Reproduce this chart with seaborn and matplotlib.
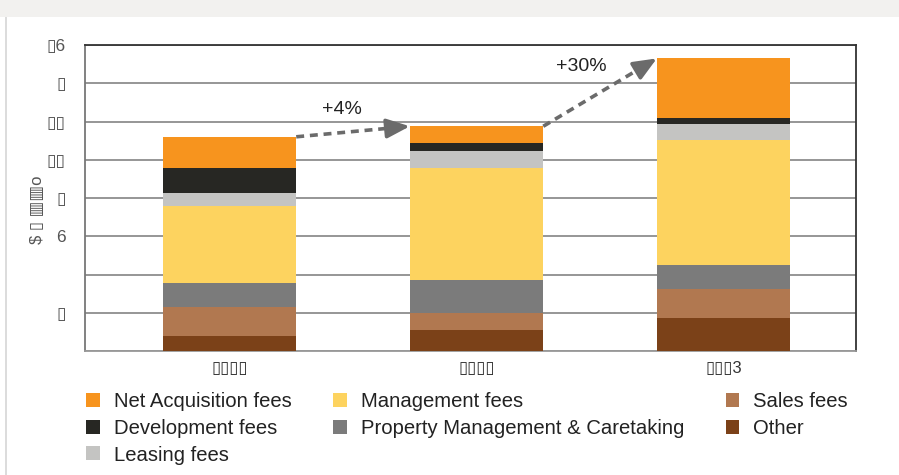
import numpy as np
import pandas as pd
import matplotlib
matplotlib.use("Agg")
import matplotlib.pyplot as plt
import seaborn as sns
from matplotlib.patches import Patch, Rectangle

# ---- data (in $ units) ----
periods = ["P1", "P2", "P3"]
period_labels = ["\u25af\u25af\u25af\u25af", "\u25af\u25af\u25af\u25af", "\u25af\u25af\u25af3"]
other = [0.78, 1.10, 1.74]
sales = [1.50, 0.89, 1.50]
prop_mgmt = [1.25, 1.72, 1.25]
management = [4.07, 5.88, 6.53]
leasing = [0.68, 0.85, 0.84]
development = [1.30, 0.42, 0.31]
net_acq = [1.62, 0.89, 3.13]
growth_labels = ["+4%", "+30%"]
ytick_values = [0, 2, 4, 6, 8, 10, 12, 14, 16]
ytick_labels = ["", "\u25af", "", "6", "\u25af", "\u25af\u25af", "\u25af\u25af", "\u25af", "\u25af6"]

# stacking order bottom -> top
series = [
    ("Other", other, "#7B4118"),
    ("Sales fees", sales, "#B17850"),
    ("Property Management & Caretaking", prop_mgmt, "#7B7B7B"),
    ("Management fees", management, "#FDD35F"),
    ("Leasing fees", leasing, "#C4C4C2"),
    ("Development fees", development, "#272723"),
    ("Net Acquisition fees", net_acq, "#F7941E"),
]

sns.set_theme(style="white")
plt.rcParams["font.family"] = ["Liberation Sans", "DejaVu Sans"]

fig = plt.figure(figsize=(8.99, 4.75), dpi=100)
fig.patch.set_facecolor("white")
# decorative page background elements
fig.patches.append(Rectangle((0, 1 - 17 / 475), 1, 17 / 475, transform=fig.transFigure,
                             facecolor="#F2F1EF", edgecolor="none", zorder=0))
fig.patches.append(Rectangle((5 / 899, 0), 2 / 899, 1 - 17 / 475, transform=fig.transFigure,
                             facecolor="#DCDCDC", edgecolor="none", zorder=0))

ax = fig.add_axes([85 / 899, 124 / 475, (856 - 85) / 899, (351 - 45) / 475])

# cumulative stacks drawn from top down so lower layers overlap
cum = np.cumsum(np.array([s[1] for s in series]), axis=0)
for i in range(len(series) - 1, -1, -1):
    df = pd.DataFrame({"period": periods, "value": cum[i]})
    sns.barplot(data=df, x="period", y="value", order=periods, color=series[i][2],
                saturation=1, width=0.54, ax=ax, zorder=3, linewidth=0)

ax.set_xlim(-0.585, 2.536)
ax.set_ylim(0, 16)
ax.set_yticks(ytick_values)
ax.set_yticklabels(ytick_labels, color="#555555", fontsize=12.5)
ax.set_xticks(range(len(periods)))
ax.set_xticklabels(period_labels, color="#333333", fontsize=12)
ax.tick_params(axis="y", length=0, pad=14)
ax.tick_params(axis="x", length=0, pad=7)
ax.set_xlabel("")
ax.set_ylabel("$ \u25af \u25a5\u25a5o", color="#555555", fontsize=12)
ax.yaxis.set_label_coords(-0.052, 0.46)
ax.yaxis.grid(True, color="#8E8E8E", linewidth=1.3)
ax.set_axisbelow(True)
for side, col in [("top", "#333333"), ("right", "#333333"), ("left", "#777777"), ("bottom", "#999999")]:
    ax.spines[side].set_visible(True)
    ax.spines[side].set_color(col)
    ax.spines[side].set_linewidth(1.3)

# growth arrows between stack tops: dashed shaft + solid head
totals = cum[-1]
half = 0.54 / 2
arrow_color = "#6B6B6B"
for k in range(len(periods) - 1):
    x0, y0 = k + half, totals[k]
    x1, y1 = k + 1 - half, totals[k + 1]
    xs, ys = x0 + 0.88 * (x1 - x0), y0 + 0.88 * (y1 - y0)
    ax.plot([x0, xs], [y0, ys], color=arrow_color, lw=2.6, linestyle=(0, (2.2, 1.6)),
            zorder=5, solid_capstyle="butt", dash_capstyle="butt")
    ax.annotate("", xy=(x1, y1), xytext=(xs, ys),
                arrowprops=dict(arrowstyle="-|>,head_length=1.0,head_width=0.42",
                                mutation_scale=14, color=arrow_color, lw=2.6,
                                shrinkA=0, shrinkB=0), zorder=5)
ax.text(0.454, 12.62, growth_labels[0], ha="center", va="center", fontsize=14, color="#222222")
ax.text(1.426, 14.85, growth_labels[1], ha="center", va="center", fontsize=14, color="#222222")

# legend
legend_order = ["Net Acquisition fees", "Development fees", "Leasing fees",
                "Management fees", "Property Management & Caretaking",
                "Sales fees", "Other"]
colors = {s[0]: s[2] for s in series}
handles = [Patch(facecolor=colors[n], edgecolor="none", label=n) for n in legend_order]
fig.legend(handles=handles, loc="upper left", bbox_to_anchor=(78 / 899, 1 - 384 / 475),
           ncol=3, frameon=False, fontsize=14.6, handlelength=0.68, handleheight=0.68,
           handletextpad=0.68, columnspacing=2.05, labelspacing=0.38, borderaxespad=0,
           labelcolor="#222222")

fig.savefig("out.png", dpi=100, facecolor="white")
